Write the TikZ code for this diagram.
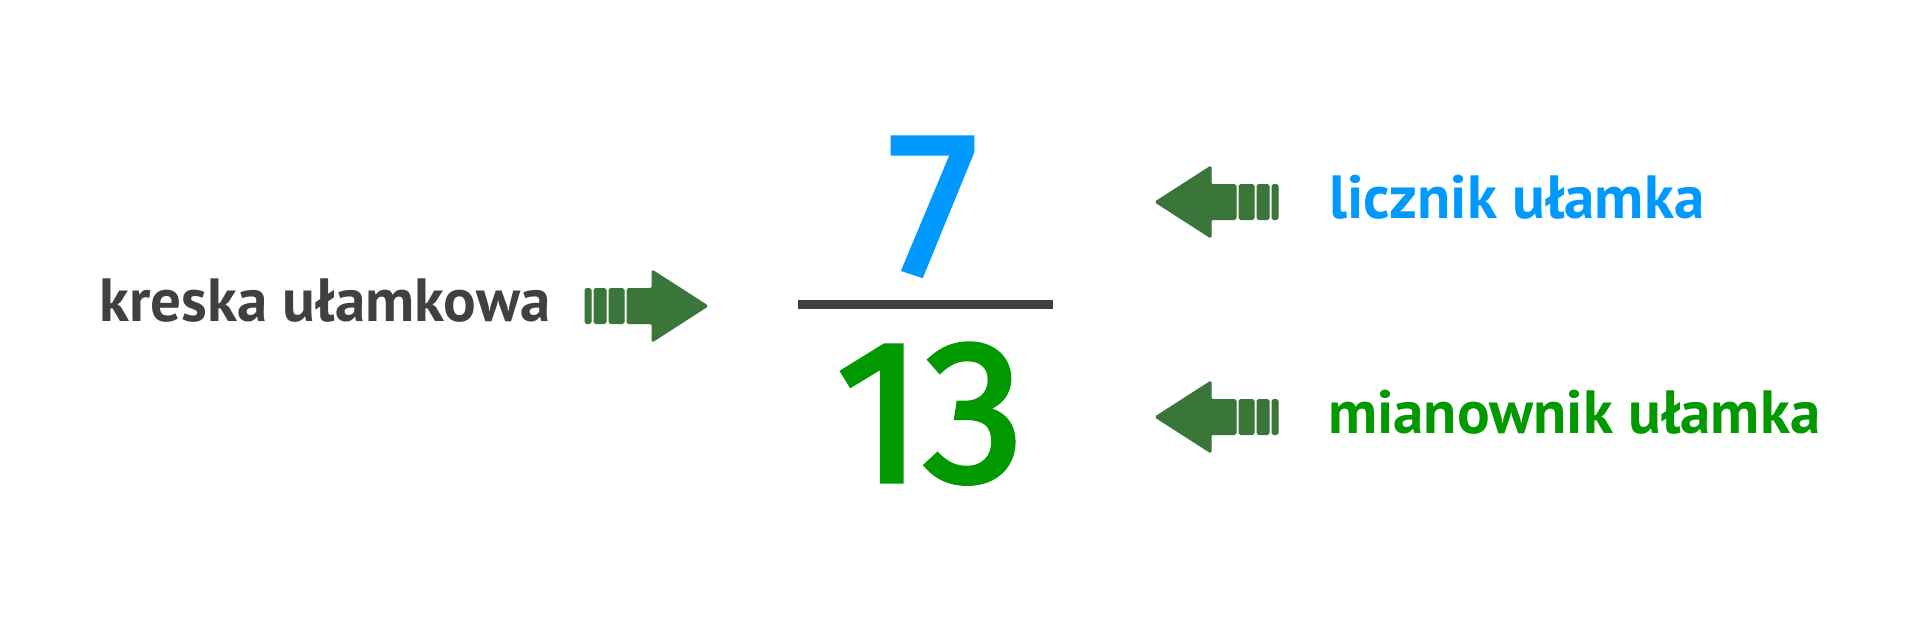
\documentclass[tikz,border=0pt]{standalone}
\usepackage{fontspec}
\setmainfont{PT Sans}
\newfontfamily\digitfont[FakeBold=2.5]{Fira Sans}
\definecolor{barcol}{HTML}{404040}
\definecolor{numblue}{HTML}{0099FF}
\definecolor{dengreen}{HTML}{009900}
\definecolor{arrgreen}{HTML}{3A763A}
\tikzset{
  lbl/.style={anchor=base west, inner sep=0pt, font=\fontsize{61}{66}\selectfont\bfseries},
  num/.style={anchor=base, inner sep=0pt, font=\digitfont\fontsize{202}{220}\selectfont},
  arrpart/.style={fill=arrgreen, draw=arrgreen, line width=1pt, rounded corners=1.5pt},
  pics/fatarrow/.style={code={
    \fill[arrpart] (-123,-17.5) rectangle (-117,17.5);
    \fill[arrpart] (-114,-17.5) rectangle (-102,17.5);
    \fill[arrpart] (-99,-17.5) rectangle (-84,17.5);
    \fill[arrpart] (-81,-17.5) -- (-56,-17.5) -- (-56,-36) -- (0,0) -- (-56,36) -- (-56,17.5) -- (-81,17.5) -- cycle;
  }}
}
\begin{document}
\begin{tikzpicture}[x=1pt,y=-1pt]
\useasboundingbox[fill=white] (0,0) rectangle (1920,640);
% fraction
\fill[barcol] (798,300) rectangle (1053,309);
\node[num, text=numblue] (numer) at (933,273) {7};
\node[num, text=dengreen] (denom) at (930,481) {13};
% labels
\node[lbl, text=barcol] (kreska) at (99,321) {kreska ułamkowa};
\node[lbl, text=numblue] (licznik) at (1329,218) {licznik ułamka};
\node[lbl, text=dengreen] (mian) at (1328,433) {mianownik ułamka};
% arrows
\pic at (708,306) {fatarrow};
\pic[xscale=-1] at (1155,202) {fatarrow};
\pic[xscale=-1] at (1155,417) {fatarrow};
\end{tikzpicture}
\end{document}
